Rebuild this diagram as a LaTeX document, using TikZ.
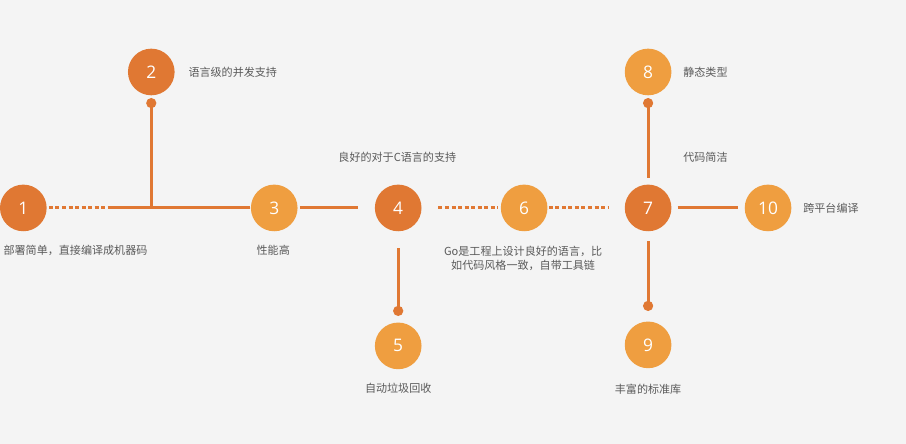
\documentclass[tikz,border=0pt]{standalone}
\usepackage{fontspec}
\setmainfont{Open Sans}
\newfontfamily\cjk{Noto Sans CJK SC}
\usetikzlibrary{arrows.meta,positioning}
\definecolor{PageBg}{HTML}{F4F4F4}
\definecolor{Ink}{HTML}{5A5A5A}
\definecolor{OrangeDeep}{HTML}{E07833}
\definecolor{OrangeSoft}{HTML}{EF9E40}
\tikzset{
  bubble/.style={circle, minimum size=35pt, inner sep=0pt, text=white,
    font=\fontsize{13}{13}\selectfont},
  deep/.style={bubble, fill=OrangeDeep},
  soft/.style={bubble, fill=OrangeSoft},
  link/.style={draw=OrangeDeep, line width=2.3pt},
  dotlink/.style={link, dash pattern=on 3pt off 1.9pt},
  knob/.style={{Circle[length=7.5pt]}-},
  caption/.style={text=Ink, inner sep=0pt, font=\cjk\fontsize{8.3}{10}\selectfont}
}

\begin{document}
\begin{tikzpicture}[x=0.75pt, y=-0.75pt]
  \fill[PageBg] (0,0) rectangle (906,444);

  % the circles
  \node[deep] (c1) at (23,208) {1};
  \node[deep] (c2) at (151,72) {2};
  \node[soft] (c3) at (274,208) {3};
  \node[deep] (c4) at (398,208) {4};
  \node[soft] (c5) at (398,346) {5};
  \node[soft] (c6) at (524,208) {6};
  \node[deep] (c7) at (648,208) {7};
  \node[soft] (c8) at (648,72) {8};
  \node[soft] (c9) at (648,345) {9};
  \node[soft] (c10) at (768,208) {10};

  % the captions
  \node[caption, anchor=west] (l1) at (3,250) {部署简单，直接编译成机器码};
  \node[caption, anchor=west] (l2) at (188,72) {语言级的并发支持};
  \node[caption] (l3) at (273,250) {性能高};
  \node[caption, anchor=west] (l4) at (338,157) {良好的对于C语言的支持};
  \node[caption] (l5) at (398,388) {自动垃圾回收};
  \node[caption, align=center] (l6) at (523,258.5)
    {Go是工程上设计良好的语言，比\\如代码风格一致，自带工具链};
  \node[caption, anchor=west] (l7) at (683,157) {代码简洁};
  \node[caption, anchor=west] (l8) at (683,72) {静态类型};
  \node[caption] (l9) at (648,389) {丰富的标准库};
  \node[caption, anchor=west] (l10) at (803,208) {跨平台编译};

  % the connectors
  \coordinate (j1) at (108,208);
  \coordinate (j2) at (151,208);
  \draw[dotlink, shorten <=1.5pt] (c1) -- (j1);
  \draw[link, shorten >=0.8pt] (j1) -- (c3);
  \draw[link, knob, shorten <=1.9pt] (c2) -- (j2);
  \draw[link, shorten <=1.5pt, shorten >=12.5pt] (c3) -- (c4);
  \draw[dotlink, shorten <=12.5pt, shorten >=2pt] (c4) -- (c6);
  \draw[dotlink, shorten <=0.8pt, shorten >=12pt] (c6) -- (c7);
  \draw[link, shorten <=4.5pt, shorten >=4.5pt] (c7) -- (c10);
  \draw[link, knob, shorten <=1.9pt, shorten >=4.5pt] (c8) -- (c7);
  \draw[link, knob, shorten <=4.8pt, shorten >=12pt] (c5) -- (c4);
  \draw[link, knob, shorten <=7.8pt, shorten >=7pt] (c9) -- (c7);
\end{tikzpicture}
\end{document}
